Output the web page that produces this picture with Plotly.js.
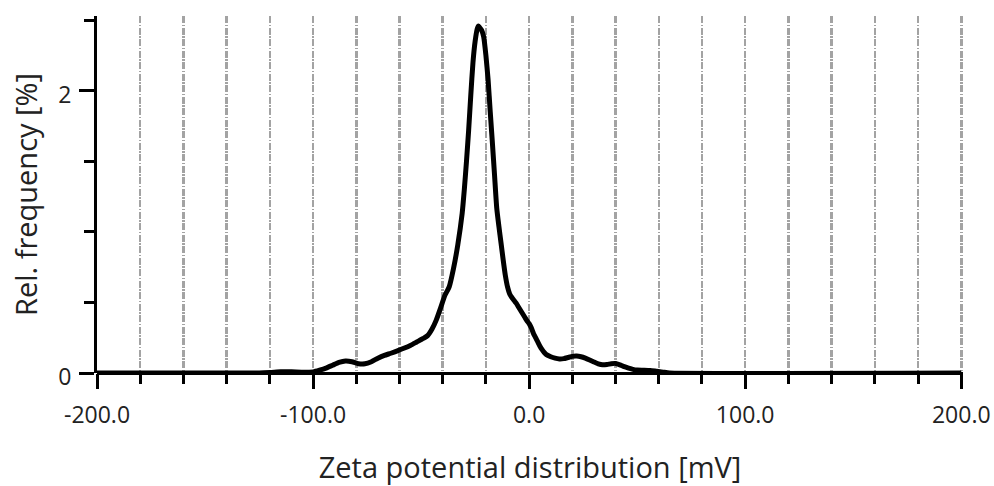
<!DOCTYPE html>
<html>
<head>
<meta charset="utf-8">
<script src="https://cdn.plot.ly/plotly-3.0.1.min.js"></script>
<style>html,body{margin:0;padding:0;background:#fff;}#chart{width:994px;height:486px;}</style>
</head>
<body>
<div id="chart"></div>
<script>
// Zeta potential [mV]
var zeta = [-200, -125, -120, -115, -110, -105, -100, -97, -94, -91, -88, -85, -82, -79, -76, -73, -70, -67, -64, -61, -58, -55, -52, -49, -47, -45, -43, -41, -39, -37, -35, -33, -31, -30, -29, -28, -27, -26, -25, -24, -23.5, -23, -22, -21, -20, -19, -18, -17, -16, -15, -14, -13, -12, -11, -10, -9, -8, -7, -6, -5, -4, -3, -2, -1, 0, 1, 2, 3, 4, 5, 6, 7, 8, 10, 12, 14, 16, 18, 20, 22, 24, 26, 28, 30, 32, 34, 36, 38, 40, 42, 44, 46, 48, 50, 53, 56, 59, 62, 65, 200];
// Relative frequency [%]
var freq = [0, 0, 0.003, 0.008, 0.008, 0.006, 0.008, 0.02, 0.035, 0.055, 0.075, 0.085, 0.08, 0.066, 0.065, 0.08, 0.105, 0.125, 0.14, 0.157, 0.175, 0.195, 0.22, 0.245, 0.265, 0.31, 0.375, 0.46, 0.55, 0.61, 0.74, 0.91, 1.13, 1.3, 1.5, 1.72, 1.97, 2.2, 2.35, 2.44, 2.46, 2.45, 2.43, 2.38, 2.25, 2.08, 1.85, 1.63, 1.4, 1.17, 1.04, 0.92, 0.8, 0.69, 0.61, 0.56, 0.535, 0.515, 0.495, 0.47, 0.445, 0.42, 0.395, 0.37, 0.35, 0.32, 0.28, 0.25, 0.22, 0.19, 0.165, 0.145, 0.13, 0.115, 0.105, 0.1, 0.102, 0.11, 0.118, 0.12, 0.115, 0.105, 0.092, 0.078, 0.065, 0.058, 0.06, 0.066, 0.068, 0.058, 0.045, 0.035, 0.026, 0.021, 0.02, 0.018, 0.012, 0.006, 0, 0];

var xTickVals = [-200, -100, 0, 100, 200];
var xTickText = ["-200.0", "-100.0", "0.0", "100.0", "200.0"];
var yTickVals = [0, 2];
var yTickText = ["0", "2"];

var gridStyle = {gridcolor: '#a3a3a3', gridwidth: 2.5, griddash: '7px,1.5px,1.5px,1.5px'};
var fontFam = '"Open Sans", "Noto Sans", sans-serif';

var trace = {
  x: zeta, y: freq, type: 'scatter', mode: 'lines',
  line: {color: '#000000', width: 5, shape: 'spline', smoothing: 0.5},
  hoverinfo: 'skip', cliponaxis: false
};

var layout = {
  width: 994, height: 486,
  margin: {l: 97, r: 31, t: 16, b: 113, pad: 0},
  paper_bgcolor: '#ffffff', plot_bgcolor: '#ffffff',
  showlegend: false,
  font: {family: fontFam, color: '#222222', size: 23},
  xaxis: {
    range: [-200, 200.8], fixedrange: true,
    tickmode: 'array', tickvals: xTickVals, ticktext: xTickText,
    ticks: 'outside', ticklen: 15, tickwidth: 3, tickcolor: '#000',
    ticklabelstandoff: 6,
    showline: false, linecolor: '#000', linewidth: 3,
    zeroline: false,
    showgrid: true, gridcolor: gridStyle.gridcolor, gridwidth: gridStyle.gridwidth, griddash: gridStyle.griddash,
    minor: {dtick: 20, tick0: -200, ticks: 'outside', ticklen: 10, tickwidth: 3, tickcolor: '#000',
            showgrid: true, gridcolor: gridStyle.gridcolor, gridwidth: gridStyle.gridwidth, griddash: gridStyle.griddash},
    tickfont: {size: 23, color: '#222'},
    title: {text: 'Zeta potential distribution [mV]', font: {size: 29, color: '#222'}, standoff: 32}
  },
  yaxis: {
    range: [0, 2.53], fixedrange: true,
    tickmode: 'array', tickvals: yTickVals, ticktext: yTickText,
    ticks: 'outside', ticklen: 15, tickwidth: 3, tickcolor: '#000',
    ticklabelstandoff: 3, ticklabelshift: 4,
    showline: true, linecolor: '#000', linewidth: 3,
    zeroline: true, zerolinecolor: '#000', zerolinewidth: 3, showgrid: false,
    minor: {dtick: 0.5, tick0: 0, ticks: 'outside', ticklen: 10, tickwidth: 3, tickcolor: '#000', showgrid: false},
    tickfont: {size: 23, color: '#222'},
    title: {text: 'Rel. frequency [%]', font: {size: 29, color: '#222'}, standoff: 13}
  }
};

Plotly.newPlot('chart', [trace], layout, {staticPlot: true, displayModeBar: false}).then(function(){
  // draw the x axis line ending exactly at the 200 tick
});
</script>
</body>
</html>
